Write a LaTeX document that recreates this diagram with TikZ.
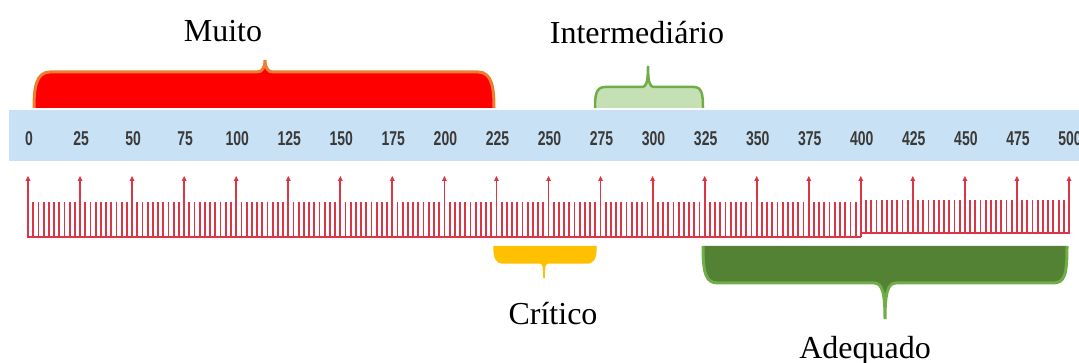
\documentclass[tikz,border=0pt]{standalone}
\usepackage{fontspec}
\setmainfont{Liberation Serif}
\newfontfamily\numfont{Liberation Sans}
\usepackage{graphicx}
\definecolor{bandblue}{HTML}{C8E1F4}
\definecolor{rulered}{HTML}{DC3545}
\definecolor{bracered}{HTML}{FF0000}
\definecolor{braceorange}{HTML}{ED7D31}
\definecolor{lightgreen}{HTML}{C5E0B4}
\definecolor{midgreen}{HTML}{70AD47}
\definecolor{darkgreen}{HTML}{548235}
\definecolor{amber}{HTML}{FFC000}
\definecolor{numgray}{HTML}{3A3A3A}
\begin{document}
\begin{tikzpicture}[x=1pt,y=-1pt,
  lab/.style={font=\fontsize{32}{36}\selectfont, inner sep=0pt, anchor=base},
  num/.style={font=\numfont\bfseries\fontsize{20}{21}\selectfont, text=numgray, inner sep=0pt},
  tick/.style={draw=rulered, line width=1.8pt},
  base/.style={draw=rulered, line width=2.2pt},
  bracefill/.style={line width=0pt}]
\useasboundingbox (0,0) rectangle (1079,363);
\clip (0,0) rectangle (1079,363);
% blue band
\fill[bandblue] (9,110) rectangle (1085,161);
% numbers
\foreach \k in {0,...,20}{
  \pgfmathtruncatemacro{\v}{25*\k}
  \node[num] (n\k) at ({29+52.05*\k},139) {\scalebox{0.7}[1]{\v}};
}
% ruler
\foreach \k in {0,...,19}{
  \foreach \j in {1,...,9}{
    \pgfmathsetmacro{\xx}{28+52.05*\k+5.205*\j}
    \ifnum\k<16
      \draw[tick] (\xx,237) -- (\xx,202);
    \else
      \draw[tick] (\xx,233) -- (\xx,200);
    \fi
  }
}
\foreach \k in {0,...,20}{
  \pgfmathsetmacro{\xx}{28+52.05*\k}
  \ifnum\k<17
    \draw[tick] (\xx,237) -- (\xx,180);
  \else
    \draw[tick] (\xx,233) -- (\xx,180);
  \fi
  \fill[rulered] (\xx,176) -- ({\xx-2.5},181) -- ({\xx+2.5},181) -- cycle;
}
\draw[base] (27,237) -- (860.8,237);
\draw[base] (860.8,233) -- (1070,233);
% red brace (Muito)
\def\redpath{(34,108) .. controls (34,88) and (36,72) .. (50,72) -- (257,72) .. controls (262,72) and (265,68) .. (265,60) .. controls (265,68) and (268,72) .. (273,72) -- (478,72) .. controls (492,72) and (494,88) .. (494,108)}
\fill[bracered] \redpath -- cycle;
\draw[braceorange, line width=3pt] \redpath;
% light green brace (Intermediario)
\def\lgpath{(595,108) .. controls (595,95) and (596,87) .. (605,87) -- (642,87) .. controls (646,87) and (648,83) .. (648,66) .. controls (648,83) and (650,87) .. (654,87) -- (694,87) .. controls (702,87) and (703,95) .. (703,108)}
\fill[lightgreen] \lgpath -- cycle;
\draw[midgreen, line width=2.5pt] \lgpath;
% yellow brace (Critico)
\def\ypath{(494,246) .. controls (494,258) and (496,263) .. (504,263) -- (540,263) .. controls (543,263) and (544,266) .. (544,278) .. controls (544,266) and (545,263) .. (548,263) -- (586,263) .. controls (594,263) and (596,258) .. (596,246)}
\fill[amber] \ypath -- cycle;
\draw[amber, line width=1.5pt] \ypath;
% dark green brace (Adequado)
\def\dgpath{(703,246) .. controls (703,274) and (706,283) .. (718,283) -- (874,283) .. controls (882,283) and (885,292) .. (885,319) .. controls (885,292) and (888,283) .. (896,283) -- (1053,283) .. controls (1065,283) and (1067,274) .. (1067,246)}
\fill[darkgreen] \dgpath -- cycle;
\draw[midgreen, line width=3pt] \dgpath;
% labels
\node[lab] (muito) at (223,42) {Muito};
\node[lab] (inter) at (637,44) {Intermediário};
\node[lab] (critico) at (553,324) {Crítico};
\node[lab] (adequado) at (865,359) {Adequado};
\end{tikzpicture}
\end{document}
